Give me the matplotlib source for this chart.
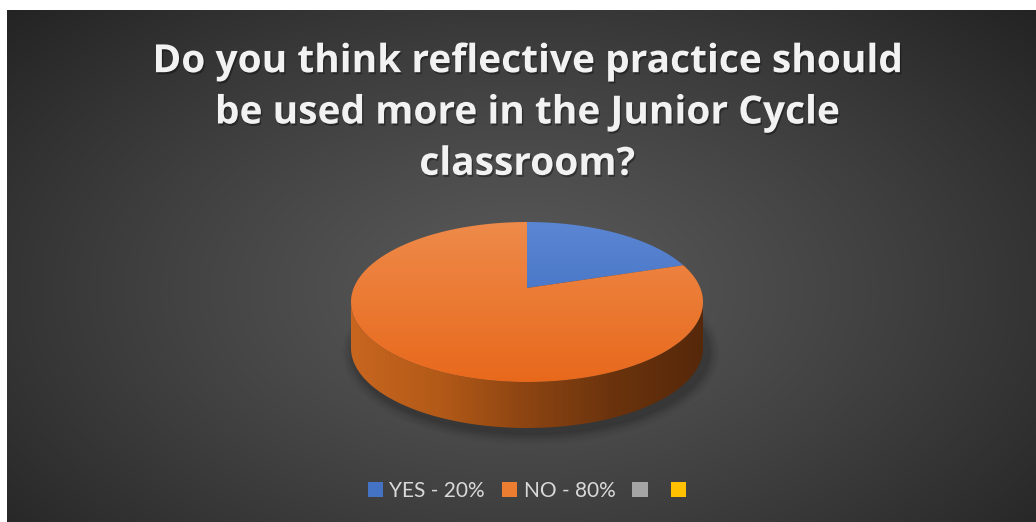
import numpy as np
import matplotlib
matplotlib.use("Agg")
import matplotlib.pyplot as plt
import matplotlib.patheffects as pe
from matplotlib.patches import Polygon, Ellipse, Patch
from matplotlib.colors import LinearSegmentedColormap

# data
labels = ["YES", "NO", "", ""]
values = [20, 80, 0, 0]
colors = ["#4472C4", "#ED7D31", "#A5A5A5", "#FFC000"]
title = "Do you think reflective practice should\nbe used more in the Junior Cycle\nclassroom?"

W, H = 1036, 522
fig = plt.figure(figsize=(W / 100, H / 100), dpi=100, facecolor="white")
ax = fig.add_axes([0, 0, 1, 1])
ax.set_xlim(0, W)
ax.set_ylim(H, 0)
ax.axis("off")

# radial background
x0, y0 = 7, 10
xs = np.linspace(x0, W, 400)
ys = np.linspace(y0, H, 200)
X, Y = np.meshgrid(xs, ys)
r = np.sqrt(((X - 520) / 640) ** 2 + ((Y - 290) / 380) ** 2)
g = np.clip(0.35 - 0.19 * r ** 1.2, 0.12, 0.35)
ax.imshow(np.dstack([g, g, g]), extent=[x0, W, H, y0], aspect="auto", zorder=0,
          interpolation="bilinear")

# pie geometry (pixels): top face is an ellipse, seen in perspective
cx, cy = 527, 302
rx, ry = 176, 80
depth = 46
k = 0.175  # perspective tilt


def project(phi):
    # point on the unit circle -> pixel on the top ellipse
    x, y = np.cos(phi), np.sin(phi)
    xp, yp = x / (1 + k * y), y / (1 + k * y)
    a = 1 / np.sqrt(1 - k ** 2)
    b = 1 / (1 - k ** 2)
    return cx + rx * xp / a, cy - ry * (yp + k * b) / b


# soft shadow below
for i, a in enumerate(np.linspace(0.06, 0.02, 6)):
    ax.add_patch(Ellipse((cx + 4, cy + depth + 4), 2 * rx + 6 + i * 4, 2 * ry + 6 + i * 4,
                         color="black", alpha=a, lw=0, zorder=1))

# side wall
th = np.radians(np.linspace(180, 360, 200))
top = np.column_stack([cx + rx * np.cos(th), cy - ry * np.sin(th)])
bot = top[::-1] + [0, depth]
side = Polygon(np.vstack([top, bot]), closed=True, lw=0, facecolor="none", zorder=2)
ax.add_patch(side)
side_cmap = LinearSegmentedColormap.from_list(
    "side", ["#C8661F", "#B35A18", "#8C4412", "#6A330D", "#56280A"])
im = ax.imshow(np.linspace(0, 1, 256).reshape(1, -1), cmap=side_cmap,
               extent=[cx - rx, cx + rx, cy + ry + depth, cy],
               aspect="auto", zorder=2, interpolation="bilinear")
im.set_clip_path(side)

# top face slices, clockwise from 12 o'clock
apex = (cx, cy - ry * k)
tops = {"#4472C4": ["#5B86D3", "#3565BA"], "#ED7D31": ["#EE8A4A", "#E8691C"]}
total = float(sum(values))
start = 90.0
for v, c in zip(values, colors):
    if v == 0:
        continue
    sweep = 360.0 * v / total
    phis = np.radians(np.linspace(start, start - sweep, 300))
    px, py = project(phis)
    pts = np.vstack([[apex], np.column_stack([px, py])])
    poly = Polygon(pts, closed=True, lw=0, facecolor="none", zorder=3)
    ax.add_patch(poly)
    cm = LinearSegmentedColormap.from_list("t", tops[c][::-1])
    gi = ax.imshow(np.linspace(0, 1, 256).reshape(-1, 1)[::-1], cmap=cm,
                   extent=[cx - rx, cx + rx, cy + ry, cy - ry],
                   aspect="auto", zorder=3, interpolation="bilinear")
    gi.set_clip_path(poly)
    start -= sweep

ax.set_xlim(0, W)
ax.set_ylim(H, 0)

# title
ax.text(527, 113, title, ha="center", va="center", color="#F2F2F2",
        fontsize=28, fontweight="bold", family="Open Sans", linespacing=1.41, zorder=5,
        path_effects=[pe.withSimplePatchShadow(offset=(1, -1.5), shadow_rgbFace="black",
                                               alpha=0.35)])

# legend
handles = [Patch(facecolor=c, edgecolor="none") for c in colors]
leg_labels = [f"{l} - {v}%" if l else "" for l, v in zip(labels, values)]
leg = fig.legend(handles, leg_labels, loc="center", bbox_to_anchor=(530 / W, 1 - 491 / H),
                 ncol=4, frameon=False, handlelength=0.75, handleheight=0.75,
                 handletextpad=0.3, columnspacing=0.8,
                 prop={"family": "Lato", "size": 15})
for t in leg.get_texts():
    t.set_color("#D9D9D9")

fig.savefig("out.png", dpi=100, facecolor="white")
